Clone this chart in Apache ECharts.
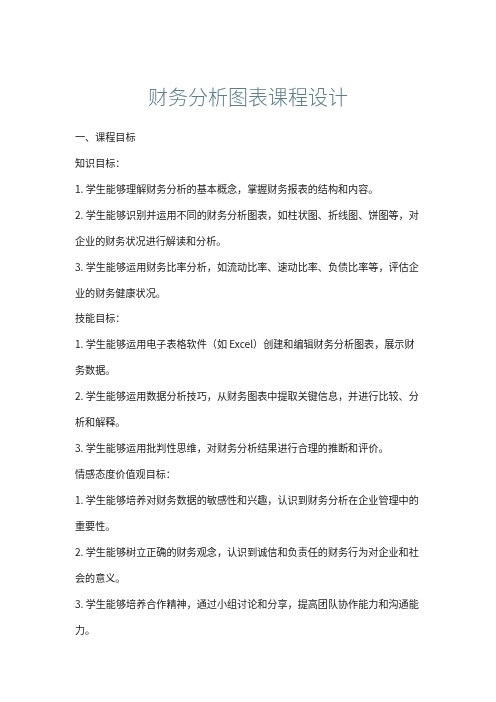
<!DOCTYPE html>
<html>
<head>
<meta charset="utf-8">
<script src="https://cdn.jsdelivr.net/npm/echarts@6/dist/echarts.min.js"></script>
<style>
html,body{margin:0;padding:0;background:#fff;}
#main{width:496px;height:702px;}
</style>
</head>
<body>
<div id="main"></div>
<script>
const titleText = '财务分析图表课程设计';
const bodyLines = [
  '一、课程目标',
  '知识目标：',
  '1. 学生能够理解财务分析的基本概念，掌握财务报表的结构和内容。',
  '2. 学生能够识别并运用不同的财务分析图表，如柱状图、折线图、饼图等，对',
  '企业的财务状况进行解读和分析。',
  '3. 学生能够运用财务比率分析，如流动比率、速动比率、负债比率等，评估企',
  '业的财务健康状况。',
  '技能目标：',
  '1. 学生能够运用电子表格软件（如 Excel）创建和编辑财务分析图表，展示财',
  '务数据。',
  '2. 学生能够运用数据分析技巧，从财务图表中提取关键信息，并进行比较、分',
  '析和解释。',
  '3. 学生能够运用批判性思维，对财务分析结果进行合理的推断和评价。',
  '情感态度价值观目标：',
  '1. 学生能够培养对财务数据的敏感性和兴趣，认识到财务分析在企业管理中的',
  '重要性。',
  '2. 学生能够树立正确的财务观念，认识到诚信和负责任的财务行为对企业和社',
  '会的意义。',
  '3. 学生能够培养合作精神，通过小组讨论和分享，提高团队协作能力和沟通能',
  '力。'
];

const chart = echarts.init(document.getElementById('main'));
const font = '"Noto Sans CJK SC", "Noto Sans", sans-serif';
const top0 = 137, step = 25.95, left0 = 75;
const elements = [{
  type: 'text',
  left: 'center',
  top: 87,
  style: { text: titleText, font: '300 20px ' + font, fill: '#5b7d8c' }
}];
bodyLines.forEach((t, i) => {
  elements.push({
    type: 'text',
    x: left0,
    y: top0 + i * step,
    style: { text: t, font: '10.1px ' + font, fill: '#1a1a1a', verticalAlign: 'middle' }
  });
});
chart.setOption({
  backgroundColor: '#fff',
  graphic: { elements: elements }
});
</script>
</body>
</html>
